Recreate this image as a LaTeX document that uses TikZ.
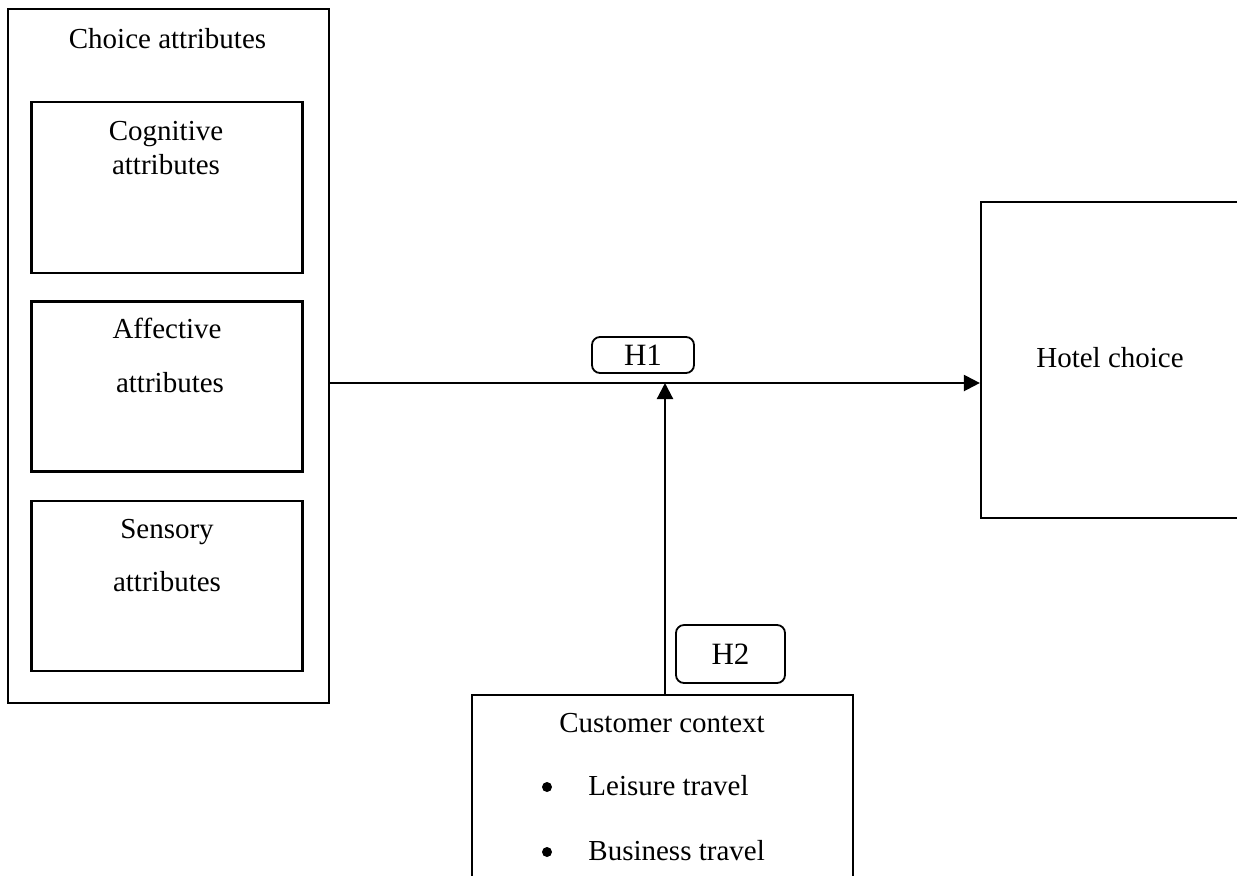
\documentclass[tikz,border=0pt]{standalone}
\usepackage{fontspec}
\setmainfont{Liberation Serif}
\usetikzlibrary{arrows.meta}
\tikzset{
  box/.style={draw, line width=1.1pt, inner sep=0pt},
  hbox/.style={draw, line width=0.9pt, rounded corners=4pt, inner sep=0pt,
    minimum width=51pt, minimum height=18pt, font=\fontsize{15.5}{18}\selectfont},
  txt/.style={anchor=base, inner sep=0pt},
  dot/.style={circle, fill, inner sep=0pt, minimum size=5pt},
  link/.style={line width=1.1pt, -{Triangle[length=8pt,width=8pt]}}
}
\begin{document}
\begin{tikzpicture}[x=0.5pt,y=-0.5pt,font=\fontsize{14.5}{17}\selectfont]
\useasboundingbox (0,0) rectangle (1237,875);
\clip (0,0) rectangle (1237,875);
% left block
\node[box, minimum width=160.5pt, minimum height=347pt] (choice) at (168.5,356) {};
\node[box, minimum width=135.5pt, minimum height=85.5pt] (cog) at (167,187.5) {};
\node[box, minimum width=135.5pt, minimum height=85pt] (aff) at (167,386.5) {};
\node[box, minimum width=135.5pt, minimum height=85pt] (sen) at (167,586) {};
\node[txt] (choicet) at (167.5,48) {Choice attributes};
\node[txt] (cog1) at (166,140) {Cognitive};
\node[txt] (cog2) at (166,174) {attributes};
\node[txt] (aff1) at (167,338) {Affective};
\node[txt] (aff2) at (170,392) {attributes};
\node[txt] (sen1) at (167,538) {Sensory};
\node[txt] (sen2) at (167,591) {attributes};
% outcome
\node[box, minimum width=145pt, minimum height=158pt] (hotel) at (1126,360) {};
\node[txt] (hotelt) at (1110,367) {Hotel choice};
% context
\node[box, minimum width=190.5pt, minimum height=110pt] (ctx) at (662.5,805) {};
\node[txt] (ctxt) at (662,732) {Customer context};
\node[dot] (b1) at (547,787) {};
\node[txt, anchor=base west] (leis) at (588,795) {Leisure travel};
\node[dot] (b2) at (547,852) {};
\node[txt, anchor=base west] (bus) at (588,860) {Business travel};
% hypotheses
\node[hbox] (h1) at (643,355) {H1};
\node[hbox, minimum width=54.5pt, minimum height=29pt] (h2) at (730.5,654) {H2};
% arrows
\coordinate (mid) at (665,383);
\draw[link] (choice.east |- mid) -- (hotel.west |- mid);
\draw[link] (ctx.north -| mid) -- (mid);
\end{tikzpicture}
\end{document}
